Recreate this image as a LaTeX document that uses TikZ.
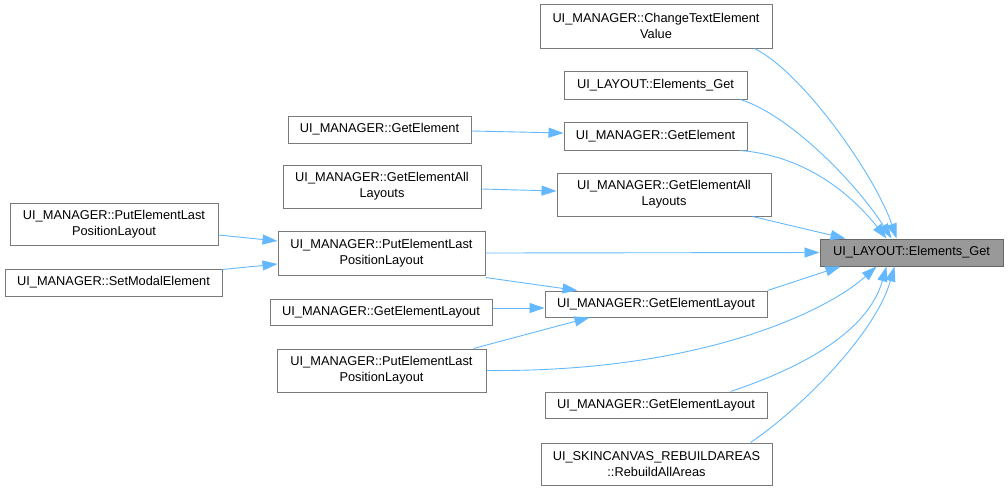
\documentclass[tikz,border=0pt]{standalone}
\usepackage{fontspec}
\setmainfont{Liberation Sans}
\usetikzlibrary{arrows.meta}
\definecolor{edgeblue}{HTML}{63B8FF}
\definecolor{boxline}{HTML}{7A7A7A}
\definecolor{focusfill}{HTML}{999999}
\begin{document}
\begin{tikzpicture}[x=1pt, y=-1pt, font=\fontsize{12.8}{16}\selectfont,
    box/.style={draw=boxline, fill=white, line width=1pt, align=center, inner sep=1pt},
    focus/.style={box, draw=black!60, fill=focusfill},
    call/.style={draw=edgeblue, line width=0.9pt, -{Triangle[length=15pt,width=10pt]}}]
  \useasboundingbox (0,0) rectangle (1008,491);
  % callers of UI_LAYOUT::Elements_Get, two levels back
  \node[focus, minimum width=183pt, minimum height=27pt] (tgt) at (911.5,252.5) {UI\_LAYOUT::Elements\_Get};
  \foreach \n/\x/\y/\w/\h/\t in {
      c1/656/26/232/44/{UI\_MANAGER::ChangeTextElement\\Value},
      c2/655.5/85/183/28/{UI\_LAYOUT::Elements\_Get},
      c3/655.5/136/183/28/{UI\_MANAGER::GetElement},
      c4/664/194.5/214/43/{UI\_MANAGER::GetElementAll\\Layouts},
      c5/381.5/253/207/44/{UI\_MANAGER::PutElementLast\\PositionLayout},
      c6/656/304/222/26/{UI\_MANAGER::GetElementLayout},
      c7/381.5/370.5/209/43/{UI\_MANAGER::PutElementLast\\PositionLayout},
      c8/656/405/222/26/{UI\_MANAGER::GetElementLayout},
      c9/656.5/464/231/42/{UI\_SKINCANVAS\_REBUILDAREAS\\::RebuildAllAreas},
      l1/379.5/129.5/183/27/{UI\_MANAGER::GetElement},
      l2/382/186.5/198/43/{UI\_MANAGER::GetElementAll\\Layouts},
      l3/114/224/208/42/{UI\_MANAGER::PutElementLast\\PositionLayout},
      l4/113.5/282.5/217/27/{UI\_MANAGER::SetModalElement},
      l5/381/312/222/26/{UI\_MANAGER::GetElementLayout}} {
    \node[box, minimum width=\w pt, minimum height=\h pt] (\n) at (\x,\y) {\t};
  }
  \draw[call] ([xshift=-18pt]c1.south east) .. controls +(50,25) and +(-20,-60) .. ([xshift=-15pt]tgt.north);
  \draw[call] ([xshift=-7pt]c2.south east) .. controls +(50,16) and +(-35,-55) .. ([xshift=-20pt]tgt.north);
  \draw[call] ([xshift=-7pt]c3.south east) .. controls +(60,5) and +(-40,-50) .. ([xshift=-25pt]tgt.north);
  \draw[call] ([xshift=-19pt]c4.south east) -- ([xshift=-66pt]tgt.north);
  \draw[call] (c5.east) -- (tgt.west);
  \draw[call] (c6.north east) -- ([xshift=-71pt]tgt.south);
  \draw[call] (c7.east) .. controls +(214,2) and +(-50,45) .. ([xshift=-35pt]tgt.south);
  \draw[call] ([xshift=-37pt]c8.north east) .. controls +(60,-20) and +(-20,70) .. ([xshift=-25pt]tgt.south);
  \draw[call] ([xshift=-22pt]c9.north east) .. controls +(45,-30) and +(-20,70) .. ([xshift=-17pt]tgt.south);
  \draw[call] ([yshift=-2pt]c5.south east) -- ([xshift=33pt]c6.north west);
  \draw[call] ([xshift=-13pt]c7.north east) -- ([xshift=45pt]c6.south west);
  \draw[call] ([yshift=-1.5pt]l1.east) -- ([yshift=3pt]c3.west);
  \draw[call] ([yshift=-2.5pt]l2.east) -- ([yshift=3.5pt]c4.west);
  \draw[call] ([yshift=-11pt]l3.east) -- ([yshift=12pt]c5.west);
  \draw[call] ([yshift=-1pt]l4.north east) -- ([yshift=-11pt]c5.west);
  \draw[call] ([yshift=4pt]l5.east) -- ([yshift=-4pt]c6.west);
\end{tikzpicture}
\end{document}
